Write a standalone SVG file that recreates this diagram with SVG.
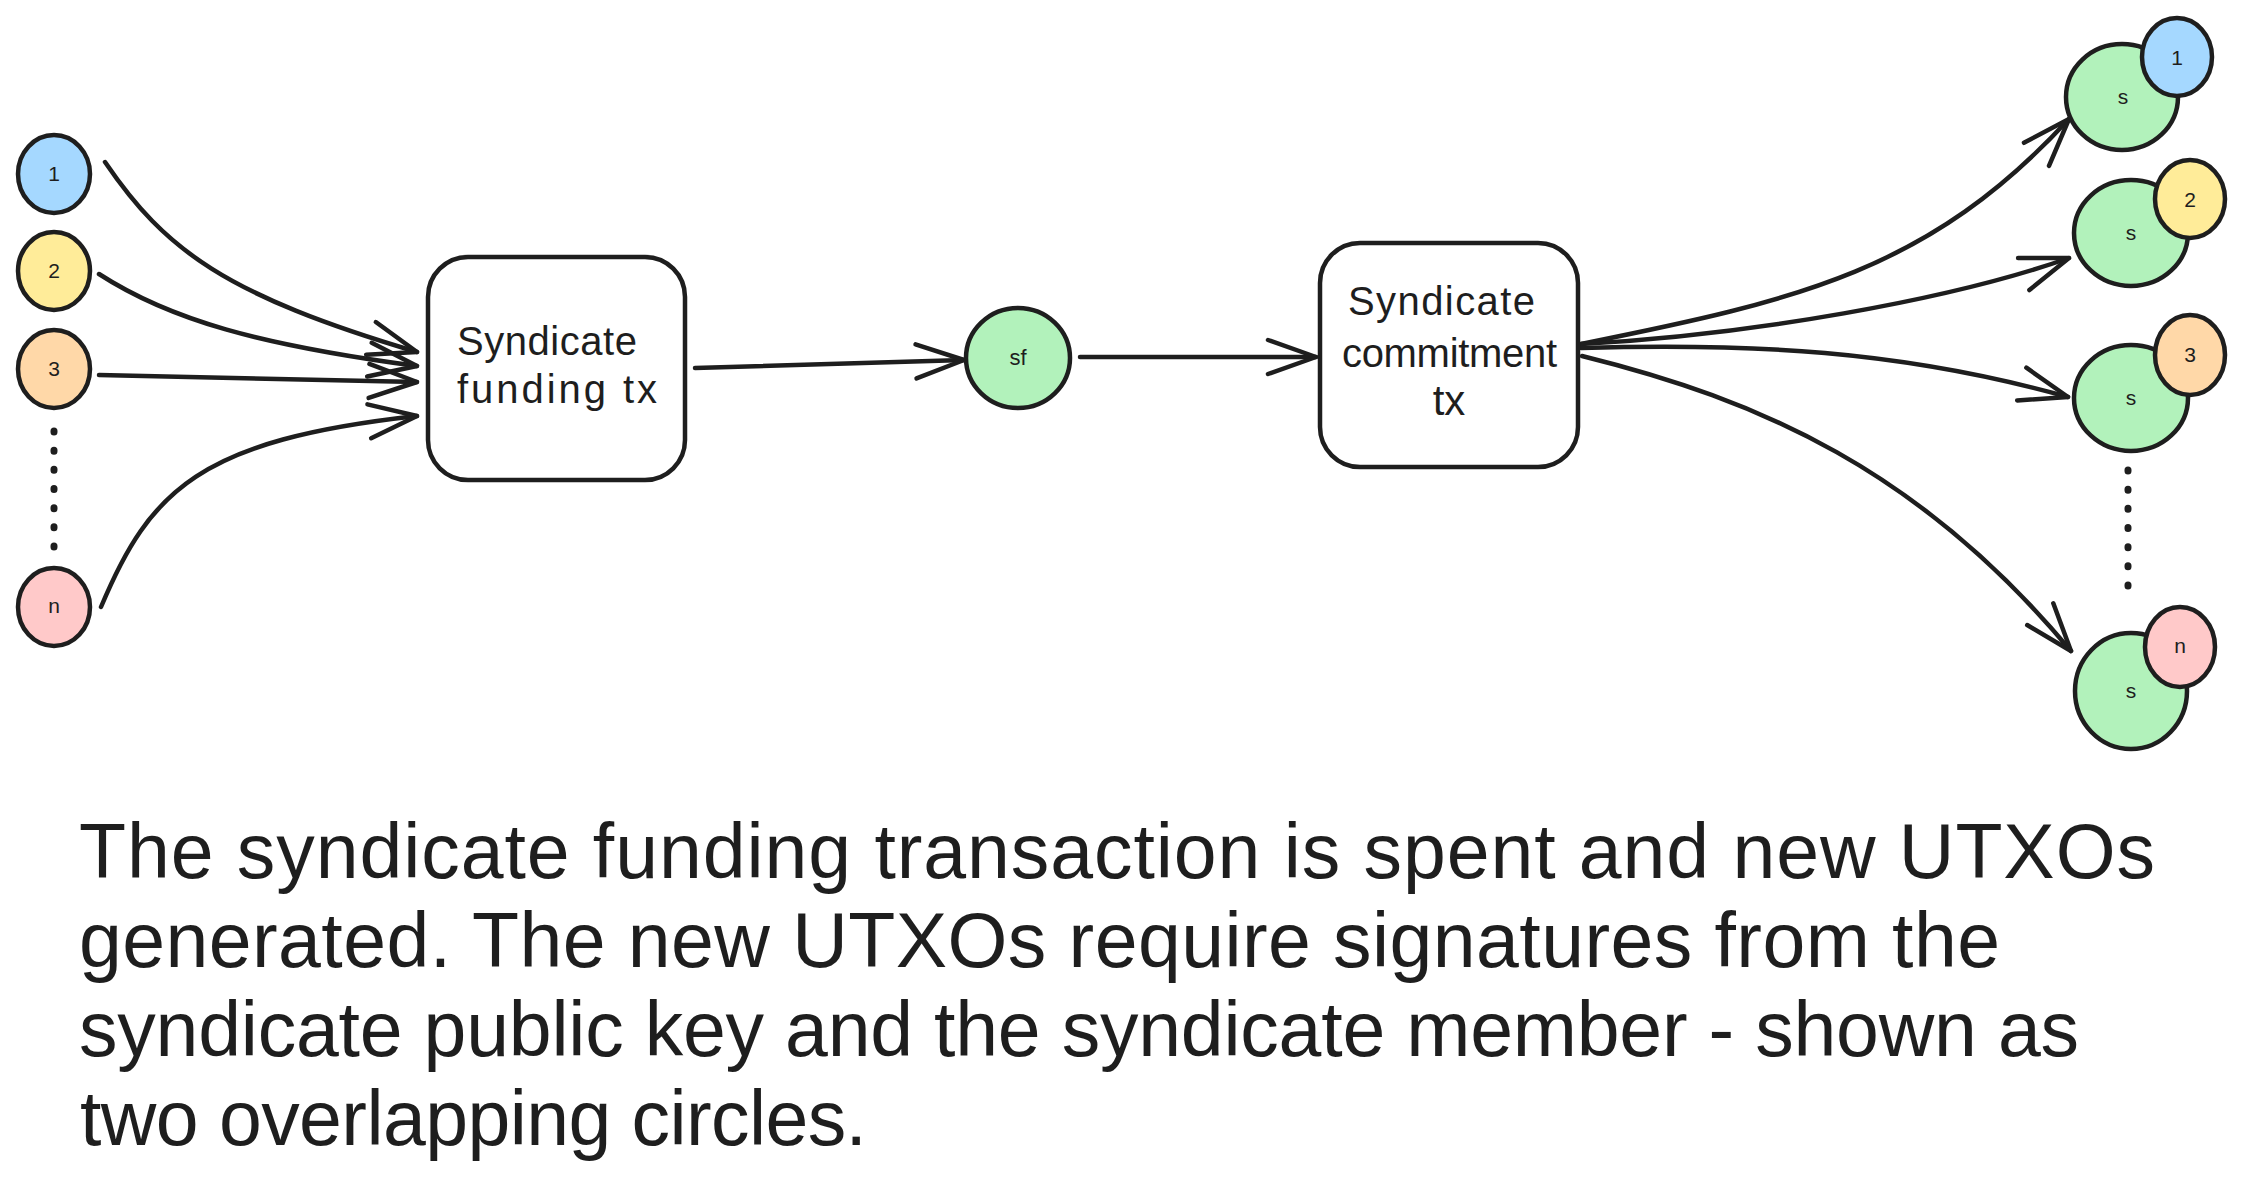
<svg xmlns="http://www.w3.org/2000/svg" width="2245" height="1191" viewBox="0 0 2245 1191">
<style>
.ln{fill:none;stroke:#1e1e1e;stroke-width:4.5;stroke-linecap:round;stroke-linejoin:round}
.sh{stroke:#1e1e1e;stroke-width:4.5}
.dots{fill:none;stroke:#1e1e1e;stroke-width:7;stroke-linecap:round;stroke-dasharray:1 18.17}
.t{font-family:"Liberation Sans",Arial,sans-serif;fill:#1e1e1e}
.sm{font-size:21px;text-anchor:middle}
.bx{font-size:40px}
.cap{font-size:77px}
.blue{fill:#a5d8ff}.yel{fill:#ffec99}.ora{fill:#ffd8a8}.pink{fill:#ffc9c9}.grn{fill:#b2f2bb}.wht{fill:#ffffff}
</style>
<defs>
<marker id="arr" markerUnits="userSpaceOnUse" markerWidth="80" markerHeight="80" viewBox="-60 -40 80 80" refX="0" refY="0" orient="auto" overflow="visible">
<path d="M-48,-17 L0,0 L-48,17" fill="none" stroke="#1e1e1e" stroke-width="4.5" stroke-linecap="round" stroke-linejoin="round"/>
</marker>
</defs>
<rect width="2245" height="1191" fill="#ffffff"/>

<g id="connectors">
<path class="ln" marker-end="url(#arr)" d="M105,162 C165,250 225,295 417,352"/>
<path class="ln" marker-end="url(#arr)" d="M99,274 C170,320 260,345 417,366"/>
<path class="ln" marker-end="url(#arr)" d="M99,375 L417,382"/>
<path class="ln" marker-end="url(#arr)" d="M101,607 C150,490 200,440 417,416"/>
<path class="ln" marker-end="url(#arr)" d="M695,368 L964,360"/>
<path class="ln" marker-end="url(#arr)" d="M1080,357 L1316,357"/>
<path class="ln" marker-end="url(#arr)" d="M1581,344 C1800,300 1930,270 2069,119"/>
<path class="ln" marker-end="url(#arr)" d="M1581,344 C1750,335 1950,300 2069,258"/>
<path class="ln" marker-end="url(#arr)" d="M1581,348 C1750,343 1900,350 2068,397"/>
<path class="ln" marker-end="url(#arr)" d="M1582,356 C1760,400 1920,470 2071,651"/>
</g>

<g id="in1"><ellipse class="sh blue" cx="54" cy="174" rx="36" ry="39"/><text class="t sm" x="54" y="181">1</text></g>
<g id="in2"><ellipse class="sh yel" cx="54" cy="271" rx="36" ry="39"/><text class="t sm" x="54" y="278">2</text></g>
<g id="in3"><ellipse class="sh ora" cx="54" cy="369" rx="36" ry="39"/><text class="t sm" x="54" y="376">3</text></g>
<g id="in-dots"><path class="dots" d="M54,431 L54,548"/></g>
<g id="inn"><ellipse class="sh pink" cx="54" cy="607" rx="36" ry="39"/><text class="t sm" x="54" y="613">n</text></g>

<g id="funding-tx">
<rect class="sh wht" x="428" y="257" width="257" height="223" rx="40" ry="40"/>
<text class="t bx" x="457" y="355" textLength="180" lengthAdjust="spacing">Syndicate</text>
<text class="t bx" x="457" y="403" textLength="200" lengthAdjust="spacing">funding tx</text>
</g>

<g id="sf"><ellipse class="sh grn" cx="1018" cy="358" rx="52" ry="50"/><text class="t sm" x="1018" y="365" style="font-size:22px">sf</text></g>

<g id="commitment-tx">
<rect class="sh wht" x="1320" y="243" width="258" height="224" rx="40" ry="40"/>
<text class="t bx" x="1348" y="315" textLength="187" lengthAdjust="spacing">Syndicate</text>
<text class="t bx" x="1342" y="367" textLength="215" lengthAdjust="spacing">commitment</text>
<text class="t bx" x="1449" y="415" style="text-anchor:middle;font-size:42px">tx</text>
</g>

<g id="out1">
<ellipse class="sh grn" cx="2122" cy="97" rx="56" ry="53"/><text class="t sm" x="2123" y="104">s</text>
<ellipse class="sh blue" cx="2177" cy="57" rx="35" ry="39"/><text class="t sm" x="2177" y="65">1</text>
</g>
<g id="out2">
<ellipse class="sh grn" cx="2131" cy="233" rx="57" ry="53"/><text class="t sm" x="2131" y="240">s</text>
<ellipse class="sh yel" cx="2190" cy="199" rx="35" ry="39"/><text class="t sm" x="2190" y="207">2</text>
</g>
<g id="out3">
<ellipse class="sh grn" cx="2131" cy="398" rx="57" ry="53"/><text class="t sm" x="2131" y="405">s</text>
<ellipse class="sh ora" cx="2190" cy="355" rx="35" ry="40"/><text class="t sm" x="2190" y="362">3</text>
</g>
<g id="out-dots"><path class="dots" d="M2128,470 L2128,586"/></g>
<g id="outn">
<ellipse class="sh grn" cx="2131" cy="691" rx="56" ry="58"/><text class="t sm" x="2131" y="698">s</text>
<ellipse class="sh pink" cx="2180" cy="647" rx="35" ry="40"/><text class="t sm" x="2180" y="653">n</text>
</g>

<g id="caption">
<text class="t cap" x="79" y="878" textLength="2076" lengthAdjust="spacing">The syndicate funding transaction is spent and new UTXOs</text>
<text class="t cap" x="79" y="967" textLength="1921" lengthAdjust="spacing">generated. The new UTXOs require signatures from the</text>
<text class="t cap" x="79" y="1056" textLength="2000" lengthAdjust="spacing">syndicate public key and the syndicate member - shown as</text>
<text class="t cap" x="80" y="1145" textLength="787" lengthAdjust="spacing">two overlapping circles.</text>
</g>
</svg>
